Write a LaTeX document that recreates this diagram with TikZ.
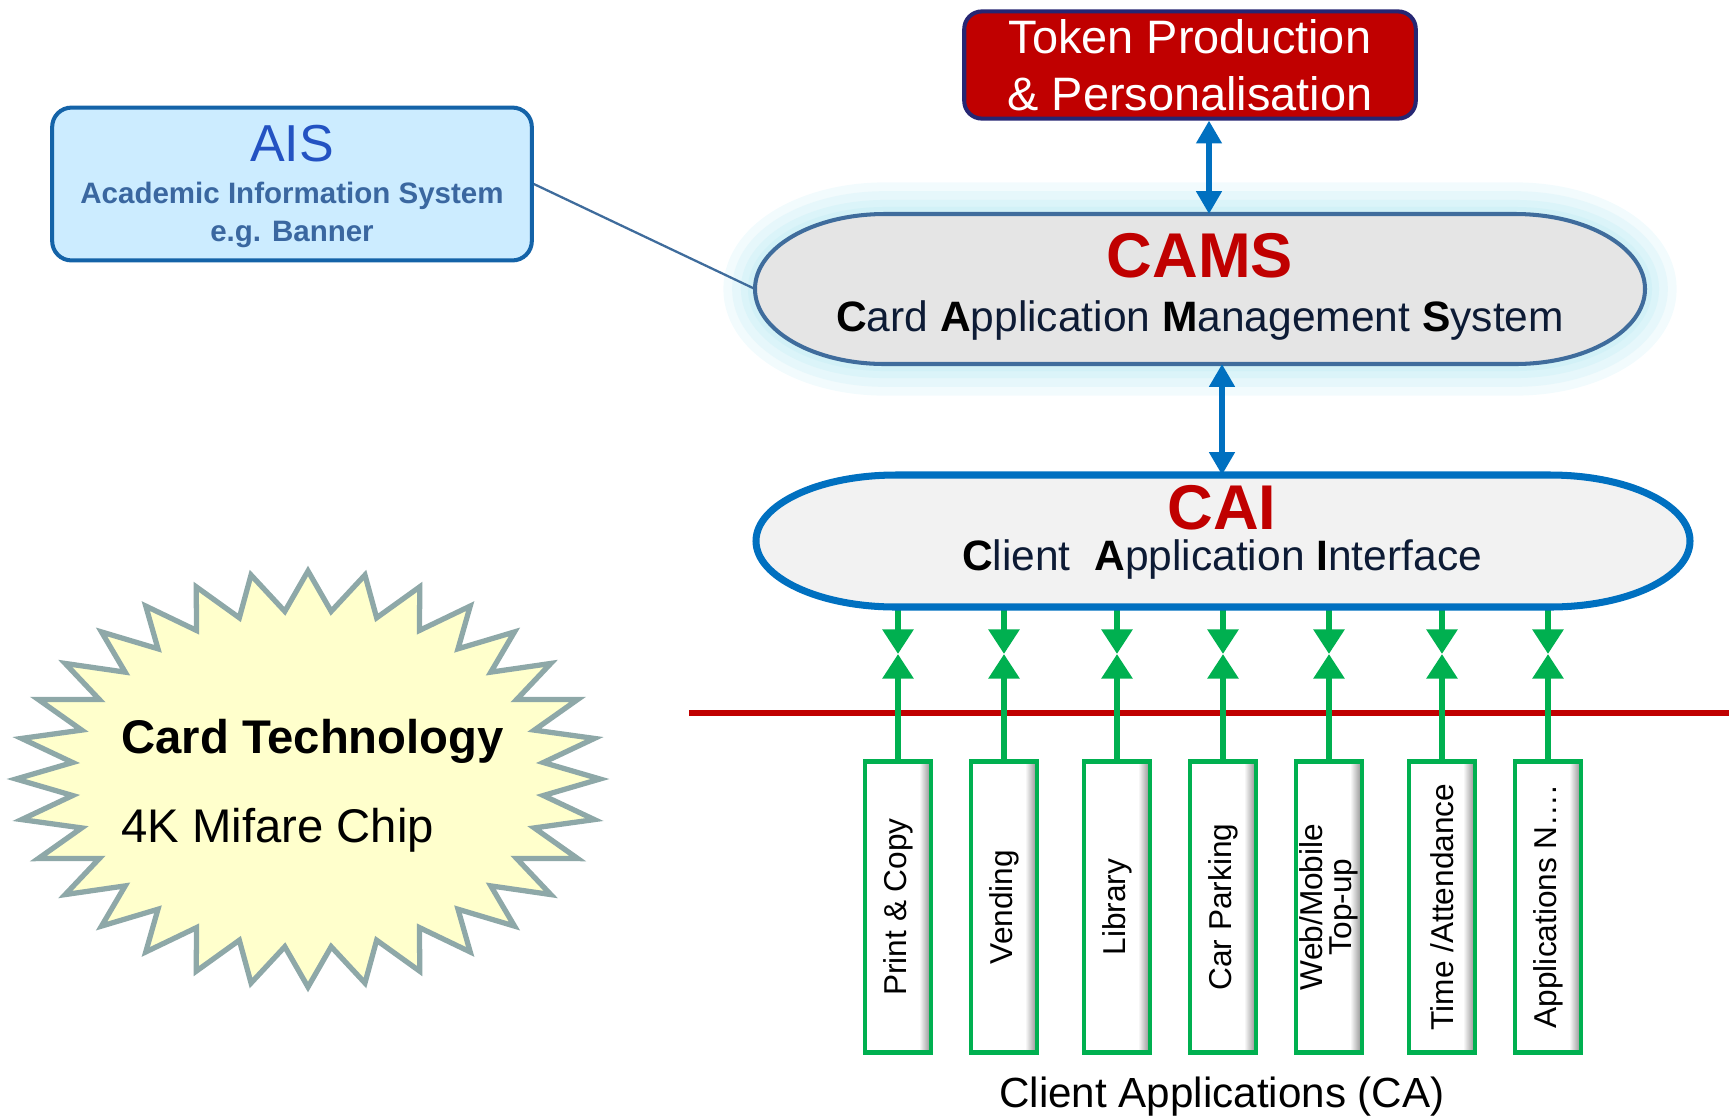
\documentclass[tikz,border=0pt]{standalone}
\usepackage{fontspec}
\setmainfont{Liberation Sans}
\usepackage{xcolor}
\usetikzlibrary{arrows.meta}

\definecolor{tokenred}{HTML}{C00000}
\definecolor{tokenedge}{HTML}{262673}
\definecolor{aisfill}{HTML}{CCECFF}
\definecolor{aisedge}{HTML}{1463A8}
\definecolor{aisblue}{HTML}{2352C2}
\definecolor{aistext}{HTML}{3A67A0}
\definecolor{camsedge}{HTML}{3F6C9C}
\definecolor{linkblue}{HTML}{0070C0}
\definecolor{navytext}{HTML}{0D1B35}
\definecolor{cagreen}{HTML}{00B050}
\definecolor{burstfill}{HTML}{FFFFCC}
\definecolor{burstedge}{HTML}{8EA8A8}
\definecolor{glow}{HTML}{D2F1F7}

% white face with a grey edge on the right
\pgfdeclarehorizontalshading{cabevel}{100bp}{color(0bp)=(white); color(25bp)=(white); color(66bp)=(white); color(75bp)=(black!45); color(100bp)=(black!45)}

\begin{document}
\begin{tikzpicture}[x=0.02cm, y=0.02cm]
        % ================= styles =================
        \tikzset{
            % red box at the top
            tokenbox/.style={rectangle, rounded corners=10pt, fill=tokenred, draw=tokenedge, line width=2.3pt, minimum width=257pt, minimum height=61pt, inner sep=0pt, text=white, align=center, font=\fontsize{26.7}{32.4}\selectfont},
            % light blue AIS box
            aisbox/.style={rectangle, rounded corners=11pt, fill=aisfill, draw=aisedge, line width=2.3pt, minimum width=273pt, minimum height=87pt, inner sep=0pt},
            aistitle/.style={text=aisblue, inner sep=0pt, font=\fontsize{29.6}{34}\selectfont},
            aissub/.style={text=aistext, align=center, inner sep=0pt, font=\fontsize{16.8}{21.6}\selectfont\bfseries},
            % outlines of the two long shapes
            camsshape/.style={insert path={(885,-214) -- (1515,-214) arc[start angle=90, end angle=-90, x radius=130, y radius=75] -- (885,-364) arc[start angle=270, end angle=90, x radius=130, y radius=75] -- cycle}},
            caishape/.style={insert path={(896,-475) -- (1550,-475) arc[start angle=90, end angle=-90, x radius=140, y radius=66] -- (896,-607) arc[start angle=270, end angle=90, x radius=140, y radius=66] -- cycle}},
            bigtitle/.style={text=tokenred, inner sep=0pt, font=\fontsize{36}{40}\selectfont\bfseries},
            subtitle/.style={text=navytext, inner sep=0pt, font=\fontsize{24.2}{28}\selectfont},
            % client application boxes
            cabox/.style={rectangle, shading=cabevel, draw=cagreen, line width=2.7pt, minimum width=37.5pt, minimum height=166pt, inner sep=0pt},
            catext/.style={rotate=90, align=center, inner sep=0pt, font=\fontsize{18}{16.5}\selectfont},
            % connectors
            linkarrow/.style={linkblue, line width=3.2pt, {Triangle[length=13pt, width=14pt]}-{Triangle[length=13pt, width=14pt]}},
            caarrow/.style={cagreen, line width=3.6pt, -{Triangle[length=14pt, width=17pt]}},
            aislink/.style={camsedge, line width=1.3pt},
            redline/.style={tokenred, line width=3.4pt},
            burst/.style={fill=burstfill, draw=burstedge, line width=3pt, line join=miter},
            bursttext/.style={anchor=west, inner sep=0pt, font=\fontsize{26.9}{30}\selectfont}
        }

        \useasboundingbox (0,0) rectangle (1729,-1117);

        % ================= 1. anchor points =================
        \coordinate (cams-n) at (1209,-214);
        \coordinate (cams-s) at (1222,-364);
        \coordinate (cams-w) at (755,-289);
        \coordinate (cai-n) at (1222,-475);
        \coordinate (cai-s) at (1222,-607);
        \coordinate (red-w) at (689,-713);
        \coordinate (red-e) at (1729,-713);

        % ================= 2. boxes =================
        \node[tokenbox] (token) at (1190,-65) {Token Production\\\& Personalisation};

        \node[aisbox] (ais) at (292,-184) {};
        \node[aistitle] (ais-t) at (292,-144) {AIS};
        \node[aissub] (ais-s) at (292,-215) {Academic Information System\\e.g. Banner};

        % CAMS with its soft glow
        \foreach \w/\c in {36/30, 26/55, 16/80, 8/100}
            \path[camsshape, draw=glow!\c, line width=\w pt];
        \path[camsshape, fill=black!10, draw=camsedge, line width=2.3pt];
        \node[bigtitle] (cams-t) at (1200,-256) {CAMS};
        \node[subtitle] (cams-s-t) at (1200,-320) {\textcolor{black}{\textbf{C}}ard \textcolor{black}{\textbf{A}}pplication \textcolor{black}{\textbf{M}}anagement \textcolor{black}{\textbf{S}}ystem};

        % ================= 3. connectors =================
        \draw[aislink] (ais.east) -- (cams-w);
        \draw[linkarrow] (token.south -| cams-n) -- (cams-n);
        \draw[linkarrow] (cams-s) -- (cai-n);
        \draw[redline] (red-w) -- (red-e);

        % ================= 4. client applications =================
        \foreach \i/\x/\txt in {1/898/{Print \& Copy}, 2/1004/{Vending}, 3/1117/{Library}, 4/1223/{Car Parking}, 5/1329/{Web/Mobile\\Top-up}, 6/1442/{Time /Attendance}, 7/1548/{Applications N….}}
        {
            \node[cabox] (box\i) at (\x,-907) {};
            \node[catext] (lbl\i) at (box\i) {\txt};
            \coordinate (mid\i) at (\x,-654);
            \draw[caarrow] (box\i.north |- cai-s) -- (mid\i);
            \draw[caarrow] (box\i.north) -- (mid\i);
        }

        % CAI drawn over the arrow ends
        \path[caishape, fill=black!5, draw=linkblue, line width=4pt];
        \node[bigtitle] (cai-t) at (1222,-508) {CAI};
        \node[subtitle] (cai-s-t) at (1222,-559) {\textcolor{black}{\textbf{C}}lient\ \ \textcolor{black}{\textbf{A}}pplication \textcolor{black}{\textbf{I}}nterface};

        \node[font=\fontsize{24}{28}\selectfont] (ca-label) at (1222,-1097) {Client Applications (CA)};

        % ================= 5. card technology burst =================
        \draw[burst] plot[domain=0:63, samples=64, variable=\k]
            ({308+292*(1-0.19*mod(round(\k),2))*cos(90-5.625*\k)}, {-779+208*(1-0.19*mod(round(\k),2))*sin(90-5.625*\k)}) -- cycle;
        \node[bursttext] (tech) at (121,-741) {\bfseries Card Technology};
        \node[bursttext] (chip) at (121,-830) {4K Mifare Chip};

    \end{tikzpicture}
\end{document}
